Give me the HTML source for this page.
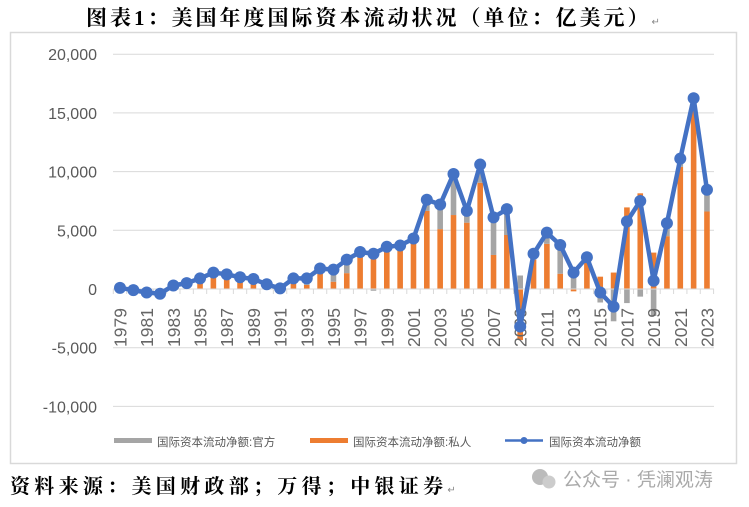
<!DOCTYPE html>
<html><head><meta charset="utf-8">
<style>
html,body{margin:0;padding:0;background:#fff;}
body{width:749px;height:507px;overflow:hidden;position:relative;font-family:"Liberation Sans","Noto Sans CJK SC",sans-serif;}
.title{position:absolute;left:0;width:749px;top:2px;text-align:center;font-family:"Liberation Serif","Noto Serif CJK SC",serif;font-weight:bold;font-size:21px;letter-spacing:3px;color:#000;}
.src{position:absolute;left:10px;top:470px;font-family:"Liberation Serif","Noto Serif CJK SC",serif;font-weight:bold;font-size:20px;letter-spacing:4.3px;color:#000;}
.wm{position:absolute;left:563px;top:465px;font-size:19px;color:#aaa;}
</style></head><body>
<div class="title">图表1：美国年度国际资本流动状况（单位：亿美元）<span style="font-size:10px;color:#888;font-weight:normal">↵</span></div>
<svg width="749" height="507" style="position:absolute;left:0;top:0" id="s"></svg>
<div class="src">资料来源：美国财政部；万得；中银证券<span style="font-size:10px;color:#888;font-weight:normal;letter-spacing:0">↵</span></div>
<div class="wm">公众号 · 凭澜观涛</div>
<script>
var net=[100,-100,-300,-400,300,500,900,1400,1250,1000,850,400,50,900,900,1750,1650,2500,3150,3000,3600,3700,4300,7600,7200,9800,6650,10600,6100,6800,-3200,3000,4800,3750,1400,2700,-300,-1500,5750,7500,700,5600,11100,16250,8450];
var pri=[0,0,0,0,0,0,500,1050,850,600,450,0,0,500,350,1350,620,1350,2700,2600,3150,3300,3900,6650,5100,6300,5650,9050,2900,4600,-4350,2500,3850,1300,-200,2300,1050,1400,6950,8150,3100,4500,10400,15450,6600];
var off=[];for(var i=0;i<45;i++){off.push(net[i]-pri[i]);}
off[34]=1600;off[36]=-1150;off[37]=-2750;off[38]=-1200;off[39]=-650;off[40]=-2300;off[19]=-150;
function Y(v){return 289-v*58.7/5000;}
function X(i){return 120+i*13.34;}
var h='';
h+='<rect x="10.5" y="32.5" width="726" height="431" fill="none" stroke="#d9d9d9" stroke-width="1.5"/>';
for(var v=-10000;v<=20000;v+=5000){var y=Y(v);
 if(v!=0)h+='<line x1="113" x2="714" y1="'+y+'" y2="'+y+'" stroke="#d9d9d9" stroke-width="1"/>';
 h+='<text x="97" y="'+(y+6)+'" text-anchor="end" font-size="16" fill="#595959">'+(v<0?'-':'')+Math.abs(v).toLocaleString('en-US')+'</text>';}
for(var i=0;i<45;i++){var x=X(i);
 var p=pri[i],o=off[i],pp=0,nn=0;
 function bar(val,c){if(val==0)return;var y0,y1;if(val>0){y0=Y(pp+val);y1=Y(pp);pp+=val;}else{y0=Y(nn);y1=Y(nn+val);nn+=val;}h+='<rect x="'+(x-2.8)+'" y="'+y0+'" width="5.6" height="'+(y1-y0)+'" fill="'+c+'"/>';}
 bar(p,'#ed7d31');bar(o,'#a5a5a5');
}
h+='<line x1="113" x2="714" y1="289" y2="289" stroke="#d9d9d9"/>';
for(var i=0;i<=45;i++){var x=113.3+i*13.34;h+='<line x1="'+x+'" x2="'+x+'" y1="289" y2="294" stroke="#d9d9d9"/>';}
for(var i=0;i<45;i+=2){var x=X(i)+6.5;h+='<text transform="translate('+x+',347) rotate(-90)" font-size="17.5" fill="#666">'+(1979+i)+'</text>';}
var pts=net.map(function(v,i){return X(i)+','+Y(v)}).join(' ');
h+='<polyline points="'+pts+'" fill="none" stroke="#4472c4" stroke-width="4.5" stroke-linejoin="round"/>';
net.forEach(function(v,i){h+='<circle cx="'+X(i)+'" cy="'+Y(v)+'" r="6" fill="#4472c4"/>';});
h+='<rect x="114" y="438" width="38" height="5" fill="#a5a5a5"/><text x="157" y="446" font-size="11.5" fill="#595959">国际资本流动净额:官方</text>';
h+='<rect x="310" y="438" width="38" height="5" fill="#ed7d31"/><text x="353" y="446" font-size="11.5" fill="#595959">国际资本流动净额:私人</text>';
h+='<line x1="505" x2="543" y1="440.5" y2="440.5" stroke="#4472c4" stroke-width="2.5"/><circle cx="524" cy="440.5" r="3.5" fill="#4472c4"/><text x="549" y="446" font-size="11.5" fill="#595959">国际资本流动净额</text>';
h+='<circle cx="540" cy="477" r="8" fill="#bbb"/><circle cx="549" cy="482" r="6.5" fill="#ccc"/>';
document.getElementById('s').innerHTML=h;
</script>
</body></html>
